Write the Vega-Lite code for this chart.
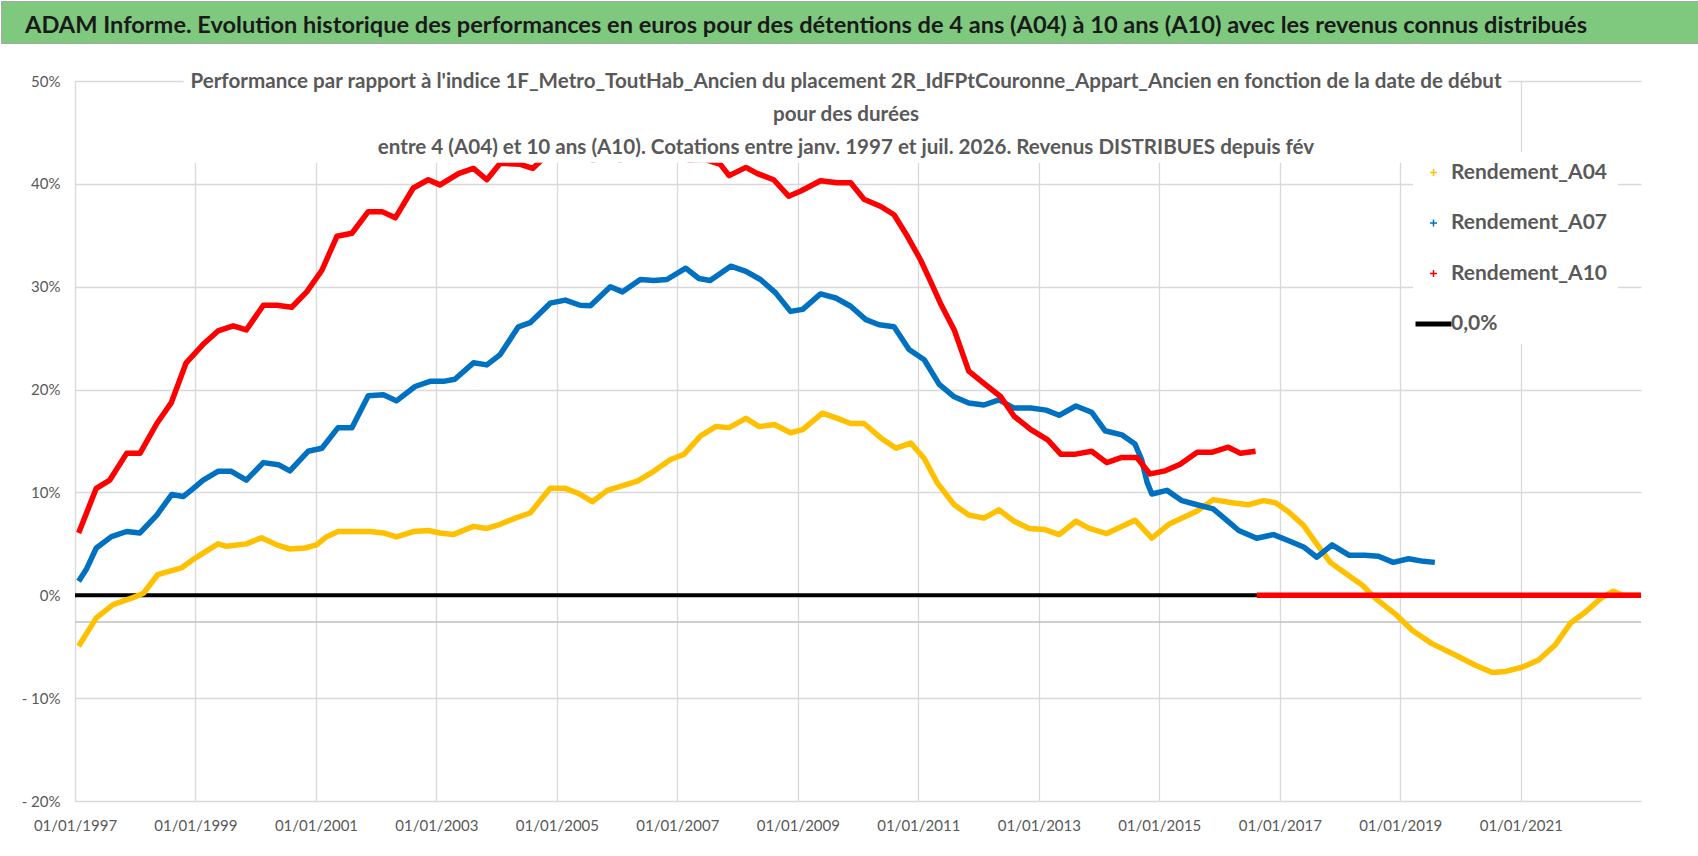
{
  "$schema": "https://vega.github.io/schema/vega-lite/v6.json",
  "padding": 0,
  "background": "white",
  "spacing": 28,
  "config": {"font": "Lato", "view": {"stroke": null}},
  "vconcat": [
    {
      "width": 1698,
      "height": 42,
      "view": {"fill": "#7FC97F", "stroke": "#a6a6a6"},
      "data": {"values": [{"label": "ADAM Informe. Evolution historique des performances en euros pour des détentions de 4 ans (A04) à 10 ans (A10) avec les revenus connus distribués"}]},
      "mark": {"type": "text", "font": "Lato", "fontSize": 23.6, "fontWeight": "bold", "color": "#1a1a1a", "align": "left", "dx": -825, "dy": 4, "baseline": "middle"},
      "encoding": {"text": {"field": "label"}}
    },
    {
      "width": 1640,
      "height": 720,
      "title": {
        "text": [
          "Performance par rapport à l'indice 1F_Metro_ToutHab_Ancien  du placement 2R_IdFPtCouronne_Appart_Ancien en fonction de la date de début",
          "pour des durées",
          "entre 4 (A04) et 10 ans (A10). Cotations entre janv. 1997 et juil. 2026. Revenus DISTRIBUES depuis fév"
        ],
        "anchor": "middle",
        "frame": "group",
        "fontSize": 20.6,
        "fontWeight": "bold",
        "color": "#595959",
        "font": "Lato",
        "lineHeight": 33,
        "baseline": "bottom",
        "offset": -105,
        "dx": 25
      },
      "layer": [
        {
          "data": {"values": [{}]},
          "mark": {"type": "rule", "color": "#bfbfbf", "strokeWidth": 1.5},
          "encoding": {
            "x": {"datum": {"year": 1997, "month": 1, "date": 1, "utc": true}, "type": "temporal"},
            "x2": {"datum": {"year": 2022, "month": 12, "date": 31, "utc": true}},
            "y": {"datum": -2.6, "type": "quantitative"}
          }
        },
        {
          "data": {"values": [
            {"d":"1997-01-01","v":0,"s":"0,0%","g":"z"},
            {"d":"2022-12-31","v":0,"s":"0,0%","g":"z"},

            {"d":"1997-01-23","v":-4.96,"s":"Rendement_A04","g":"a04"},
            {"d":"1997-05-10","v":-2.2,"s":"Rendement_A04","g":"a04"},
            {"d":"1997-08-20","v":-0.9,"s":"Rendement_A04","g":"a04"},
            {"d":"1998-01-08","v":-0.1,"s":"Rendement_A04","g":"a04"},
            {"d":"1998-02-20","v":0.2,"s":"Rendement_A04","g":"a04"},
            {"d":"1998-05-17","v":2.0,"s":"Rendement_A04","g":"a04"},
            {"d":"1998-10-08","v":2.66,"s":"Rendement_A04","g":"a04"},
            {"d":"1998-12-20","v":3.5,"s":"Rendement_A04","g":"a04"},
            {"d":"1999-02-17","v":4.1,"s":"Rendement_A04","g":"a04"},
            {"d":"1999-05-18","v":5.0,"s":"Rendement_A04","g":"a04"},
            {"d":"1999-07-08","v":4.76,"s":"Rendement_A04","g":"a04"},
            {"d":"1999-11-06","v":5.0,"s":"Rendement_A04","g":"a04"},
            {"d":"2000-02-06","v":5.6,"s":"Rendement_A04","g":"a04"},
            {"d":"2000-05-08","v":4.9,"s":"Rendement_A04","g":"a04"},
            {"d":"2000-07-27","v":4.5,"s":"Rendement_A04","g":"a04"},
            {"d":"2000-10-27","v":4.6,"s":"Rendement_A04","g":"a04"},
            {"d":"2001-01-04","v":4.9,"s":"Rendement_A04","g":"a04"},
            {"d":"2001-03-07","v":5.7,"s":"Rendement_A04","g":"a04"},
            {"d":"2001-05-15","v":6.2,"s":"Rendement_A04","g":"a04"},
            {"d":"2001-08-14","v":6.2,"s":"Rendement_A04","g":"a04"},
            {"d":"2001-11-24","v":6.2,"s":"Rendement_A04","g":"a04"},
            {"d":"2002-02-14","v":6.06,"s":"Rendement_A04","g":"a04"},
            {"d":"2002-05-04","v":5.67,"s":"Rendement_A04","g":"a04"},
            {"d":"2002-08-14","v":6.2,"s":"Rendement_A04","g":"a04"},
            {"d":"2002-11-13","v":6.3,"s":"Rendement_A04","g":"a04"},
            {"d":"2003-01-23","v":6.06,"s":"Rendement_A04","g":"a04"},
            {"d":"2003-04-12","v":5.9,"s":"Rendement_A04","g":"a04"},
            {"d":"2003-08-14","v":6.7,"s":"Rendement_A04","g":"a04"},
            {"d":"2003-11-03","v":6.5,"s":"Rendement_A04","g":"a04"},
            {"d":"2004-01-23","v":6.9,"s":"Rendement_A04","g":"a04"},
            {"d":"2004-04-23","v":7.5,"s":"Rendement_A04","g":"a04"},
            {"d":"2004-07-23","v":8.0,"s":"Rendement_A04","g":"a04"},
            {"d":"2004-11-21","v":10.4,"s":"Rendement_A04","g":"a04"},
            {"d":"2005-02-21","v":10.4,"s":"Rendement_A04","g":"a04"},
            {"d":"2005-05-12","v":9.9,"s":"Rendement_A04","g":"a04"},
            {"d":"2005-08-03","v":9.1,"s":"Rendement_A04","g":"a04"},
            {"d":"2005-11-03","v":10.2,"s":"Rendement_A04","g":"a04"},
            {"d":"2006-05-04","v":11.1,"s":"Rendement_A04","g":"a04"},
            {"d":"2006-08-11","v":12.05,"s":"Rendement_A04","g":"a04"},
            {"d":"2006-11-21","v":13.2,"s":"Rendement_A04","g":"a04"},
            {"d":"2007-02-10","v":13.7,"s":"Rendement_A04","g":"a04"},
            {"d":"2007-05-22","v":15.5,"s":"Rendement_A04","g":"a04"},
            {"d":"2007-08-22","v":16.4,"s":"Rendement_A04","g":"a04"},
            {"d":"2007-11-11","v":16.3,"s":"Rendement_A04","g":"a04"},
            {"d":"2008-02-21","v":17.2,"s":"Rendement_A04","g":"a04"},
            {"d":"2008-05-12","v":16.4,"s":"Rendement_A04","g":"a04"},
            {"d":"2008-08-11","v":16.6,"s":"Rendement_A04","g":"a04"},
            {"d":"2008-11-17","v":15.8,"s":"Rendement_A04","g":"a04"},
            {"d":"2009-01-30","v":16.1,"s":"Rendement_A04","g":"a04"},
            {"d":"2009-05-29","v":17.7,"s":"Rendement_A04","g":"a04"},
            {"d":"2009-08-29","v":17.2,"s":"Rendement_A04","g":"a04"},
            {"d":"2009-11-17","v":16.7,"s":"Rendement_A04","g":"a04"},
            {"d":"2010-02-06","v":16.7,"s":"Rendement_A04","g":"a04"},
            {"d":"2010-05-19","v":15.3,"s":"Rendement_A04","g":"a04"},
            {"d":"2010-08-19","v":14.3,"s":"Rendement_A04","g":"a04"},
            {"d":"2010-11-17","v":14.8,"s":"Rendement_A04","g":"a04"},
            {"d":"2011-02-06","v":13.3,"s":"Rendement_A04","g":"a04"},
            {"d":"2011-04-27","v":10.9,"s":"Rendement_A04","g":"a04"},
            {"d":"2011-08-07","v":8.8,"s":"Rendement_A04","g":"a04"},
            {"d":"2011-11-03","v":7.8,"s":"Rendement_A04","g":"a04"},
            {"d":"2012-02-03","v":7.5,"s":"Rendement_A04","g":"a04"},
            {"d":"2012-05-04","v":8.3,"s":"Rendement_A04","g":"a04"},
            {"d":"2012-08-04","v":7.2,"s":"Rendement_A04","g":"a04"},
            {"d":"2012-11-03","v":6.5,"s":"Rendement_A04","g":"a04"},
            {"d":"2013-02-03","v":6.4,"s":"Rendement_A04","g":"a04"},
            {"d":"2013-05-04","v":5.9,"s":"Rendement_A04","g":"a04"},
            {"d":"2013-08-14","v":7.2,"s":"Rendement_A04","g":"a04"},
            {"d":"2013-11-03","v":6.5,"s":"Rendement_A04","g":"a04"},
            {"d":"2014-02-17","v":6.0,"s":"Rendement_A04","g":"a04"},
            {"d":"2014-08-07","v":7.3,"s":"Rendement_A04","g":"a04"},
            {"d":"2014-11-17","v":5.55,"s":"Rendement_A04","g":"a04"},
            {"d":"2015-02-28","v":6.9,"s":"Rendement_A04","g":"a04"},
            {"d":"2015-08-19","v":8.2,"s":"Rendement_A04","g":"a04"},
            {"d":"2015-11-24","v":9.3,"s":"Rendement_A04","g":"a04"},
            {"d":"2016-03-17","v":9.0,"s":"Rendement_A04","g":"a04"},
            {"d":"2016-06-25","v":8.8,"s":"Rendement_A04","g":"a04"},
            {"d":"2016-09-24","v":9.2,"s":"Rendement_A04","g":"a04"},
            {"d":"2016-12-06","v":9.0,"s":"Rendement_A04","g":"a04"},
            {"d":"2017-02-24","v":8.1,"s":"Rendement_A04","g":"a04"},
            {"d":"2017-05-25","v":6.8,"s":"Rendement_A04","g":"a04"},
            {"d":"2017-08-04","v":5.2,"s":"Rendement_A04","g":"a04"},
            {"d":"2017-11-03","v":3.2,"s":"Rendement_A04","g":"a04"},
            {"d":"2018-02-24","v":1.9,"s":"Rendement_A04","g":"a04"},
            {"d":"2018-05-15","v":1.0,"s":"Rendement_A04","g":"a04"},
            {"d":"2018-08-04","v":-0.3,"s":"Rendement_A04","g":"a04"},
            {"d":"2018-12-01","v":-1.8,"s":"Rendement_A04","g":"a04"},
            {"d":"2019-03-14","v":-3.4,"s":"Rendement_A04","g":"a04"},
            {"d":"2019-07-12","v":-4.7,"s":"Rendement_A04","g":"a04"},
            {"d":"2019-12-01","v":-5.8,"s":"Rendement_A04","g":"a04"},
            {"d":"2020-04-01","v":-6.8,"s":"Rendement_A04","g":"a04"},
            {"d":"2020-07-12","v":-7.5,"s":"Rendement_A04","g":"a04"},
            {"d":"2020-10-01","v":-7.4,"s":"Rendement_A04","g":"a04"},
            {"d":"2021-01-08","v":-7.0,"s":"Rendement_A04","g":"a04"},
            {"d":"2021-04-19","v":-6.3,"s":"Rendement_A04","g":"a04"},
            {"d":"2021-07-30","v":-4.8,"s":"Rendement_A04","g":"a04"},
            {"d":"2021-10-30","v":-2.7,"s":"Rendement_A04","g":"a04"},
            {"d":"2022-01-30","v":-1.6,"s":"Rendement_A04","g":"a04"},
            {"d":"2022-05-01","v":-0.3,"s":"Rendement_A04","g":"a04"},
            {"d":"2022-07-16","v":0.4,"s":"Rendement_A04","g":"a04"},
            {"d":"2022-09-13","v":0.0,"s":"Rendement_A04","g":"a04"},
            {"d":"2022-12-24","v":0.0,"s":"Rendement_A04","g":"a04"},

            {"d":"1997-01-23","v":1.36,"s":"Rendement_A07","g":"a07"},
            {"d":"1997-03-10","v":2.5,"s":"Rendement_A07","g":"a07"},
            {"d":"1997-05-10","v":4.6,"s":"Rendement_A07","g":"a07"},
            {"d":"1997-08-10","v":5.7,"s":"Rendement_A07","g":"a07"},
            {"d":"1997-11-10","v":6.2,"s":"Rendement_A07","g":"a07"},
            {"d":"1998-01-30","v":6.06,"s":"Rendement_A07","g":"a07"},
            {"d":"1998-05-12","v":7.8,"s":"Rendement_A07","g":"a07"},
            {"d":"1998-08-11","v":9.8,"s":"Rendement_A07","g":"a07"},
            {"d":"1998-10-19","v":9.6,"s":"Rendement_A07","g":"a07"},
            {"d":"1998-12-20","v":10.4,"s":"Rendement_A07","g":"a07"},
            {"d":"1999-02-17","v":11.2,"s":"Rendement_A07","g":"a07"},
            {"d":"1999-05-18","v":12.05,"s":"Rendement_A07","g":"a07"},
            {"d":"1999-08-07","v":12.05,"s":"Rendement_A07","g":"a07"},
            {"d":"1999-11-06","v":11.2,"s":"Rendement_A07","g":"a07"},
            {"d":"2000-02-17","v":12.9,"s":"Rendement_A07","g":"a07"},
            {"d":"2000-05-18","v":12.7,"s":"Rendement_A07","g":"a07"},
            {"d":"2000-07-27","v":12.1,"s":"Rendement_A07","g":"a07"},
            {"d":"2000-11-14","v":14.0,"s":"Rendement_A07","g":"a07"},
            {"d":"2001-02-06","v":14.3,"s":"Rendement_A07","g":"a07"},
            {"d":"2001-05-15","v":16.3,"s":"Rendement_A07","g":"a07"},
            {"d":"2001-08-07","v":16.3,"s":"Rendement_A07","g":"a07"},
            {"d":"2001-11-14","v":19.4,"s":"Rendement_A07","g":"a07"},
            {"d":"2002-02-14","v":19.5,"s":"Rendement_A07","g":"a07"},
            {"d":"2002-05-04","v":18.9,"s":"Rendement_A07","g":"a07"},
            {"d":"2002-08-25","v":20.3,"s":"Rendement_A07","g":"a07"},
            {"d":"2002-11-24","v":20.8,"s":"Rendement_A07","g":"a07"},
            {"d":"2003-02-14","v":20.8,"s":"Rendement_A07","g":"a07"},
            {"d":"2003-04-23","v":21.0,"s":"Rendement_A07","g":"a07"},
            {"d":"2003-08-14","v":22.6,"s":"Rendement_A07","g":"a07"},
            {"d":"2003-11-03","v":22.4,"s":"Rendement_A07","g":"a07"},
            {"d":"2004-01-23","v":23.4,"s":"Rendement_A07","g":"a07"},
            {"d":"2004-05-12","v":26.1,"s":"Rendement_A07","g":"a07"},
            {"d":"2004-07-23","v":26.5,"s":"Rendement_A07","g":"a07"},
            {"d":"2004-11-21","v":28.4,"s":"Rendement_A07","g":"a07"},
            {"d":"2005-02-21","v":28.7,"s":"Rendement_A07","g":"a07"},
            {"d":"2005-05-22","v":28.2,"s":"Rendement_A07","g":"a07"},
            {"d":"2005-07-23","v":28.15,"s":"Rendement_A07","g":"a07"},
            {"d":"2005-11-21","v":30.0,"s":"Rendement_A07","g":"a07"},
            {"d":"2006-02-03","v":29.5,"s":"Rendement_A07","g":"a07"},
            {"d":"2006-05-22","v":30.7,"s":"Rendement_A07","g":"a07"},
            {"d":"2006-08-11","v":30.6,"s":"Rendement_A07","g":"a07"},
            {"d":"2006-10-30","v":30.7,"s":"Rendement_A07","g":"a07"},
            {"d":"2007-02-21","v":31.8,"s":"Rendement_A07","g":"a07"},
            {"d":"2007-05-12","v":30.8,"s":"Rendement_A07","g":"a07"},
            {"d":"2007-07-19","v":30.6,"s":"Rendement_A07","g":"a07"},
            {"d":"2007-11-21","v":32.0,"s":"Rendement_A07","g":"a07"},
            {"d":"2008-02-21","v":31.5,"s":"Rendement_A07","g":"a07"},
            {"d":"2008-05-19","v":30.7,"s":"Rendement_A07","g":"a07"},
            {"d":"2008-08-19","v":29.4,"s":"Rendement_A07","g":"a07"},
            {"d":"2008-11-17","v":27.6,"s":"Rendement_A07","g":"a07"},
            {"d":"2009-01-30","v":27.8,"s":"Rendement_A07","g":"a07"},
            {"d":"2009-05-18","v":29.3,"s":"Rendement_A07","g":"a07"},
            {"d":"2009-08-19","v":28.9,"s":"Rendement_A07","g":"a07"},
            {"d":"2009-11-17","v":28.1,"s":"Rendement_A07","g":"a07"},
            {"d":"2010-02-17","v":26.8,"s":"Rendement_A07","g":"a07"},
            {"d":"2010-05-08","v":26.3,"s":"Rendement_A07","g":"a07"},
            {"d":"2010-08-07","v":26.1,"s":"Rendement_A07","g":"a07"},
            {"d":"2010-11-06","v":23.9,"s":"Rendement_A07","g":"a07"},
            {"d":"2011-02-06","v":22.9,"s":"Rendement_A07","g":"a07"},
            {"d":"2011-05-08","v":20.5,"s":"Rendement_A07","g":"a07"},
            {"d":"2011-08-07","v":19.3,"s":"Rendement_A07","g":"a07"},
            {"d":"2011-11-03","v":18.7,"s":"Rendement_A07","g":"a07"},
            {"d":"2012-02-03","v":18.5,"s":"Rendement_A07","g":"a07"},
            {"d":"2012-05-04","v":19.0,"s":"Rendement_A07","g":"a07"},
            {"d":"2012-08-04","v":18.2,"s":"Rendement_A07","g":"a07"},
            {"d":"2012-11-14","v":18.2,"s":"Rendement_A07","g":"a07"},
            {"d":"2013-02-14","v":18.0,"s":"Rendement_A07","g":"a07"},
            {"d":"2013-05-04","v":17.5,"s":"Rendement_A07","g":"a07"},
            {"d":"2013-08-14","v":18.4,"s":"Rendement_A07","g":"a07"},
            {"d":"2013-11-17","v":17.8,"s":"Rendement_A07","g":"a07"},
            {"d":"2014-02-06","v":16.0,"s":"Rendement_A07","g":"a07"},
            {"d":"2014-05-19","v":15.6,"s":"Rendement_A07","g":"a07"},
            {"d":"2014-08-07","v":14.7,"s":"Rendement_A07","g":"a07"},
            {"d":"2014-09-16","v":13.2,"s":"Rendement_A07","g":"a07"},
            {"d":"2014-10-19","v":11.0,"s":"Rendement_A07","g":"a07"},
            {"d":"2014-11-17","v":9.85,"s":"Rendement_A07","g":"a07"},
            {"d":"2015-02-17","v":10.2,"s":"Rendement_A07","g":"a07"},
            {"d":"2015-05-19","v":9.2,"s":"Rendement_A07","g":"a07"},
            {"d":"2015-08-19","v":8.8,"s":"Rendement_A07","g":"a07"},
            {"d":"2015-11-24","v":8.4,"s":"Rendement_A07","g":"a07"},
            {"d":"2016-02-06","v":7.4,"s":"Rendement_A07","g":"a07"},
            {"d":"2016-04-27","v":6.3,"s":"Rendement_A07","g":"a07"},
            {"d":"2016-08-14","v":5.55,"s":"Rendement_A07","g":"a07"},
            {"d":"2016-11-24","v":5.9,"s":"Rendement_A07","g":"a07"},
            {"d":"2017-02-24","v":5.3,"s":"Rendement_A07","g":"a07"},
            {"d":"2017-05-25","v":4.7,"s":"Rendement_A07","g":"a07"},
            {"d":"2017-08-14","v":3.7,"s":"Rendement_A07","g":"a07"},
            {"d":"2017-11-14","v":4.9,"s":"Rendement_A07","g":"a07"},
            {"d":"2018-02-24","v":3.9,"s":"Rendement_A07","g":"a07"},
            {"d":"2018-06-02","v":3.9,"s":"Rendement_A07","g":"a07"},
            {"d":"2018-08-22","v":3.8,"s":"Rendement_A07","g":"a07"},
            {"d":"2018-11-20","v":3.2,"s":"Rendement_A07","g":"a07"},
            {"d":"2019-02-21","v":3.55,"s":"Rendement_A07","g":"a07"},
            {"d":"2019-05-22","v":3.3,"s":"Rendement_A07","g":"a07"},
            {"d":"2019-07-30","v":3.2,"s":"Rendement_A07","g":"a07"},

            {"d":"1997-01-23","v":6.06,"s":"Rendement_A10","g":"a10a"},
            {"d":"1997-05-10","v":10.4,"s":"Rendement_A10","g":"a10a"},
            {"d":"1997-07-31","v":11.2,"s":"Rendement_A10","g":"a10a"},
            {"d":"1997-11-10","v":13.8,"s":"Rendement_A10","g":"a10a"},
            {"d":"1998-01-30","v":13.8,"s":"Rendement_A10","g":"a10a"},
            {"d":"1998-05-12","v":16.7,"s":"Rendement_A10","g":"a10a"},
            {"d":"1998-08-07","v":18.7,"s":"Rendement_A10","g":"a10a"},
            {"d":"1998-11-06","v":22.6,"s":"Rendement_A10","g":"a10a"},
            {"d":"1999-02-17","v":24.4,"s":"Rendement_A10","g":"a10a"},
            {"d":"1999-05-18","v":25.7,"s":"Rendement_A10","g":"a10a"},
            {"d":"1999-08-18","v":26.2,"s":"Rendement_A10","g":"a10a"},
            {"d":"1999-11-06","v":25.8,"s":"Rendement_A10","g":"a10a"},
            {"d":"2000-02-17","v":28.2,"s":"Rendement_A10","g":"a10a"},
            {"d":"2000-05-08","v":28.2,"s":"Rendement_A10","g":"a10a"},
            {"d":"2000-08-07","v":28.0,"s":"Rendement_A10","g":"a10a"},
            {"d":"2000-11-06","v":29.5,"s":"Rendement_A10","g":"a10a"},
            {"d":"2001-02-06","v":31.6,"s":"Rendement_A10","g":"a10a"},
            {"d":"2001-05-08","v":34.9,"s":"Rendement_A10","g":"a10a"},
            {"d":"2001-08-07","v":35.2,"s":"Rendement_A10","g":"a10a"},
            {"d":"2001-11-14","v":37.3,"s":"Rendement_A10","g":"a10a"},
            {"d":"2002-02-06","v":37.3,"s":"Rendement_A10","g":"a10a"},
            {"d":"2002-04-27","v":36.7,"s":"Rendement_A10","g":"a10a"},
            {"d":"2002-08-14","v":39.6,"s":"Rendement_A10","g":"a10a"},
            {"d":"2002-11-13","v":40.4,"s":"Rendement_A10","g":"a10a"},
            {"d":"2003-01-23","v":39.9,"s":"Rendement_A10","g":"a10a"},
            {"d":"2003-05-15","v":41.0,"s":"Rendement_A10","g":"a10a"},
            {"d":"2003-08-14","v":41.5,"s":"Rendement_A10","g":"a10a"},
            {"d":"2003-11-03","v":40.4,"s":"Rendement_A10","g":"a10a"},
            {"d":"2004-01-23","v":42.0,"s":"Rendement_A10","g":"a10a"},
            {"d":"2004-05-25","v":41.9,"s":"Rendement_A10","g":"a10a"},
            {"d":"2004-08-07","v":41.5,"s":"Rendement_A10","g":"a10a"},
            {"d":"2004-10-19","v":42.6,"s":"Rendement_A10","g":"a10a"},
            {"d":"2005-02-06","v":43.0,"s":"Rendement_A10","g":"a10a"},
            {"d":"2005-05-25","v":42.7,"s":"Rendement_A10","g":"a10a"},
            {"d":"2005-08-07","v":42.3,"s":"Rendement_A10","g":"a10a"},
            {"d":"2005-10-19","v":42.9,"s":"Rendement_A10","g":"a10a"},
            {"d":"2006-01-19","v":42.3,"s":"Rendement_A10","g":"a10a"},
            {"d":"2006-04-19","v":43.2,"s":"Rendement_A10","g":"a10a"},
            {"d":"2006-08-07","v":43.6,"s":"Rendement_A10","g":"a10a"},
            {"d":"2006-11-24","v":43.1,"s":"Rendement_A10","g":"a10a"},
            {"d":"2007-03-14","v":42.3,"s":"Rendement_A10","g":"a10a"},
            {"d":"2007-06-13","v":42.4,"s":"Rendement_A10","g":"a10a"},
            {"d":"2007-09-19","v":41.9,"s":"Rendement_A10","g":"a10a"},
            {"d":"2007-11-11","v":40.8,"s":"Rendement_A10","g":"a10a"},
            {"d":"2008-02-21","v":41.6,"s":"Rendement_A10","g":"a10a"},
            {"d":"2008-05-01","v":41.0,"s":"Rendement_A10","g":"a10a"},
            {"d":"2008-08-07","v":40.4,"s":"Rendement_A10","g":"a10a"},
            {"d":"2008-11-06","v":38.8,"s":"Rendement_A10","g":"a10a"},
            {"d":"2009-01-19","v":39.3,"s":"Rendement_A10","g":"a10a"},
            {"d":"2009-05-18","v":40.3,"s":"Rendement_A10","g":"a10a"},
            {"d":"2009-08-29","v":40.1,"s":"Rendement_A10","g":"a10a"},
            {"d":"2009-11-17","v":40.1,"s":"Rendement_A10","g":"a10a"},
            {"d":"2010-02-06","v":38.5,"s":"Rendement_A10","g":"a10a"},
            {"d":"2010-05-19","v":37.8,"s":"Rendement_A10","g":"a10a"},
            {"d":"2010-08-07","v":37.0,"s":"Rendement_A10","g":"a10a"},
            {"d":"2010-10-27","v":34.9,"s":"Rendement_A10","g":"a10a"},
            {"d":"2011-01-15","v":32.6,"s":"Rendement_A10","g":"a10a"},
            {"d":"2011-03-17","v":30.5,"s":"Rendement_A10","g":"a10a"},
            {"d":"2011-05-15","v":28.4,"s":"Rendement_A10","g":"a10a"},
            {"d":"2011-08-07","v":25.8,"s":"Rendement_A10","g":"a10a"},
            {"d":"2011-11-03","v":21.8,"s":"Rendement_A10","g":"a10a"},
            {"d":"2012-02-03","v":20.6,"s":"Rendement_A10","g":"a10a"},
            {"d":"2012-05-15","v":19.3,"s":"Rendement_A10","g":"a10a"},
            {"d":"2012-08-04","v":17.4,"s":"Rendement_A10","g":"a10a"},
            {"d":"2012-11-14","v":16.1,"s":"Rendement_A10","g":"a10a"},
            {"d":"2013-02-24","v":15.1,"s":"Rendement_A10","g":"a10a"},
            {"d":"2013-05-15","v":13.7,"s":"Rendement_A10","g":"a10a"},
            {"d":"2013-08-04","v":13.7,"s":"Rendement_A10","g":"a10a"},
            {"d":"2013-11-17","v":14.0,"s":"Rendement_A10","g":"a10a"},
            {"d":"2014-02-17","v":12.9,"s":"Rendement_A10","g":"a10a"},
            {"d":"2014-05-19","v":13.4,"s":"Rendement_A10","g":"a10a"},
            {"d":"2014-08-18","v":13.4,"s":"Rendement_A10","g":"a10a"},
            {"d":"2014-11-06","v":11.8,"s":"Rendement_A10","g":"a10a"},
            {"d":"2015-02-06","v":12.1,"s":"Rendement_A10","g":"a10a"},
            {"d":"2015-05-08","v":12.75,"s":"Rendement_A10","g":"a10a"},
            {"d":"2015-08-19","v":13.9,"s":"Rendement_A10","g":"a10a"},
            {"d":"2015-11-14","v":13.9,"s":"Rendement_A10","g":"a10a"},
            {"d":"2016-02-24","v":14.4,"s":"Rendement_A10","g":"a10a"},
            {"d":"2016-05-08","v":13.8,"s":"Rendement_A10","g":"a10a"},
            {"d":"2016-08-07","v":14.0,"s":"Rendement_A10","g":"a10a"},
            {"d":"2016-08-15","v":0,"s":"Rendement_A10","g":"a10b"},
            {"d":"2022-12-31","v":0,"s":"Rendement_A10","g":"a10b"}
          ]},
          "mark": {"type": "line", "strokeCap": "butt", "strokeJoin": "round"},
          "encoding": {
            "x": {
              "field": "d", "type": "temporal",
              "scale": {"type": "utc", "domain": [{"year": 1997, "month": 1, "date": 1, "utc": true}, {"year": 2022, "month": 12, "date": 31, "utc": true}], "range": [74, 1640]},
              "axis": {
                "title": null,
                "values": [
                  {"year": 1997, "month": 1, "date": 1, "utc": true},
                  {"year": 1999, "month": 1, "date": 1, "utc": true},
                  {"year": 2001, "month": 1, "date": 1, "utc": true},
                  {"year": 2003, "month": 1, "date": 1, "utc": true},
                  {"year": 2005, "month": 1, "date": 1, "utc": true},
                  {"year": 2007, "month": 1, "date": 1, "utc": true},
                  {"year": 2009, "month": 1, "date": 1, "utc": true},
                  {"year": 2011, "month": 1, "date": 1, "utc": true},
                  {"year": 2013, "month": 1, "date": 1, "utc": true},
                  {"year": 2015, "month": 1, "date": 1, "utc": true},
                  {"year": 2017, "month": 1, "date": 1, "utc": true},
                  {"year": 2019, "month": 1, "date": 1, "utc": true},
                  {"year": 2021, "month": 1, "date": 1, "utc": true}
                ],
                "labelExpr": "utcFormat(datum.value, '%d/%m/%Y')",
                "grid": true, "gridColor": "#d9d9d9", "gridWidth": 1.3,
                "domain": false, "ticks": false,
                "labelPadding": 17, "labelFontSize": 15, "labelColor": "#595959",
                "labelFont": "Lato", "labelOverlap": false, "labelFlush": false
              }
            },
            "y": {
              "field": "v", "type": "quantitative",
              "scale": {"domain": [-20, 50], "nice": false, "zero": false},
              "axis": {
                "title": null,
                "values": [-20, -10, 0, 10, 20, 30, 40, 50],
                "labelExpr": "datum.value < 0 ? '- ' + (-datum.value) + '%' : datum.value + '%'",
                "grid": true, "gridColor": "#d9d9d9", "gridWidth": 1.3,
                "domain": false, "ticks": false, "offset": -74,
                "labelPadding": 15, "labelFontSize": 15, "labelColor": "#595959",
                "labelFont": "Lato"
              }
            },
            "color": {
              "field": "s", "type": "nominal",
              "scale": {"domain": ["Rendement_A04", "Rendement_A07", "Rendement_A10", "0,0%"], "range": ["#FFC000", "#0070C0", "#FF0000", "#000000"]},
              "legend": {
                "title": null,
                "orient": "none",
                "legendX": 1412,
                "legendY": 151,
                "fillColor": "white",
                "padding": 10,
                "symbolType": "stroke",
                "symbolSize": 1296,
                "symbolStrokeWidth": 5,
                "labelFont": "Lato",
                "labelFontSize": 21,
                "labelFontWeight": "bold",
                "labelColor": "#595959",
                "labelOffset": 7,
                "labelLimit": 400,
                "rowPadding": 28.5,
                "encode": {
                  "symbols": {
                    "update": {
                      "shape": {"signal": "datum.value === '0,0%' ? 'stroke' : 'M-1,0H1M0,-1V1'"},
                      "size": {"signal": "datum.value === '0,0%' ? 1296 : 49"},
                      "strokeWidth": {"signal": "datum.value === '0,0%' ? 5 : 1.5"}
                    }
                  }
                }
              }
            },
            "detail": {"field": "g"},
            "strokeWidth": {"condition": {"test": "datum.s === '0,0%'", "value": 4}, "value": 5.5}
          }
        },
        {
          "data": {"values": [{}]},
          "mark": {"type": "rect", "color": "white", "clip": false},
          "encoding": {
            "x": {"datum": {"year": 1998, "month": 10, "date": 22, "utc": true}, "type": "temporal"},
            "x2": {"datum": {"year": 2020, "month": 10, "date": 15, "utc": true}},
            "y": {"datum": 42.05, "type": "quantitative"},
            "y2": {"datum": 50.6}
          }
        }
      ]
    }
  ]
}
